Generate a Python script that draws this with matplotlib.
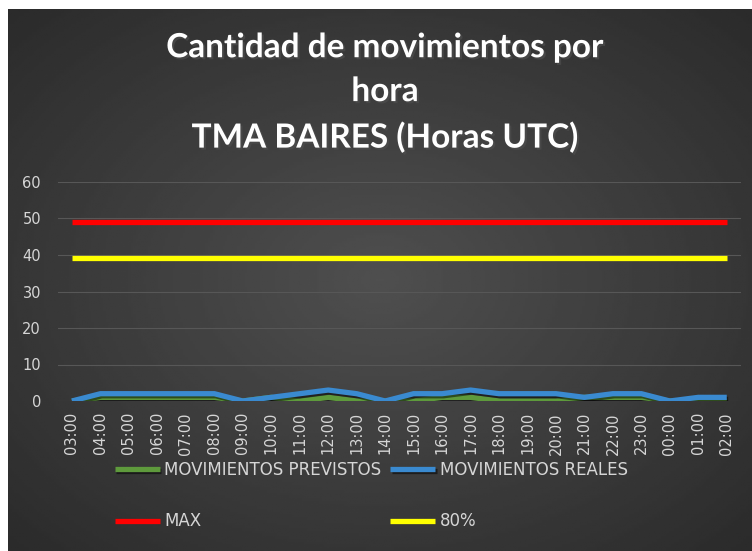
import matplotlib.pyplot as plt
import matplotlib.patheffects as pe
import numpy as np

horas = ["03:00", "04:00", "05:00", "06:00", "07:00", "08:00", "09:00", "10:00",
         "11:00", "12:00", "13:00", "14:00", "15:00", "16:00", "17:00", "18:00",
         "19:00", "20:00", "21:00", "22:00", "23:00", "00:00", "01:00", "02:00"]
previstos = [0, 1, 1, 1, 1, 1, 0, 1, 0, 1, 0, 0, 0, 1, 1, 0, 0, 0, 1, 1, 1, 0, 0, 0]
reales = [0, 2, 2, 2, 2, 2, 0, 1, 2, 3, 2, 0, 2, 2, 3, 2, 2, 2, 1, 2, 2, 0, 1, 1]
maximo = [49] * len(horas)
ochenta = [39.2] * len(horas)

W, H = 752, 551
fig = plt.figure(figsize=(W / 100, H / 100), dpi=100)
fig.patch.set_facecolor("white")

# dark radial background like the excel chart area
bg = fig.add_axes([8 / W, 0, (W - 8) / W, (H - 9) / H])
yy, xx = np.mgrid[0:1:200j, 0:1:300j]
r = np.sqrt(((xx - 0.5) / 0.75) ** 2 + ((yy - 0.5) / 0.75) ** 2)
grad = np.clip(0.31 - 0.15 * r, 0.16, 0.31)
bg.imshow(grad, cmap="gray", vmin=0, vmax=1, aspect="auto", extent=[0, 1, 0, 1])
bg.axis("off")

ax = fig.add_axes([57.75 / W, 150 / H, (741 - 57.75) / W, 219 / H])
ax.set_facecolor("none")
x = np.arange(len(horas))

sombra = [pe.SimpleLineShadow(offset=(1, -1.5), alpha=0.5), pe.Normal()]
l_prev, = ax.plot(x, previstos, color="#5e9a3c", lw=3.8, solid_joinstyle="round",
                  solid_capstyle="butt", label="MOVIMIENTOS PREVISTOS", zorder=3, path_effects=sombra)
l_real, = ax.plot(x, reales, color="#3a8ad0", lw=3.8, solid_joinstyle="round",
                  solid_capstyle="butt", label="MOVIMIENTOS REALES", zorder=4, path_effects=sombra)
l_max, = ax.plot(x, maximo, color="#ff0000", lw=3.8, solid_capstyle="butt", label="MAX", zorder=3)
l_80, = ax.plot(x, ochenta, color="#ffff00", lw=3.8, solid_capstyle="butt", label="80%", zorder=3)

ax.set_xlim(-0.5, len(horas) - 0.5)
ax.set_ylim(0, 60)
ax.set_yticks(range(0, 61, 10))
ax.set_xticks(x)
ax.set_xticklabels(horas, rotation=90)
ax.grid(axis="y", color="#575757", lw=0.8)
ax.set_axisbelow(True)
for s in ax.spines.values():
    s.set_visible(False)
ax.tick_params(length=0, colors="#d6d6d6", labelsize=10.5)
ax.tick_params(axis="y", pad=12)
ax.tick_params(axis="x", pad=8)

fig.text(385 / W, 1 - 93 / H, "Cantidad de movimientos por\nhora\nTMA BAIRES (Horas UTC)",
         ha="center", va="center", color="white", fontsize=24, fontweight="bold",
         family=["Lato", "DejaVu Sans"], linespacing=1.62,
         path_effects=[pe.SimplePatchShadow(offset=(1.5, -1.5), alpha=0.7), pe.Normal()])

# column-major order so rows read previstos/reales then max/80%
leg = fig.legend([l_prev, l_max, l_real, l_80],
                 ["MOVIMIENTOS PREVISTOS", "MAX", "MOVIMIENTOS REALES", "80%"],
                 loc="upper left", bbox_to_anchor=(100 / W, 1 - 446 / H), ncol=2,
                 frameon=False, handlelength=2.7, handletextpad=0.25,
                 columnspacing=0.55, labelspacing=2.0,
                 prop={"family": ["Liberation Sans Narrow", "DejaVu Sans"], "size": 12})
for t in leg.get_texts():
    t.set_color("#d6d6d6")

fig.savefig("out.png", dpi=100)
